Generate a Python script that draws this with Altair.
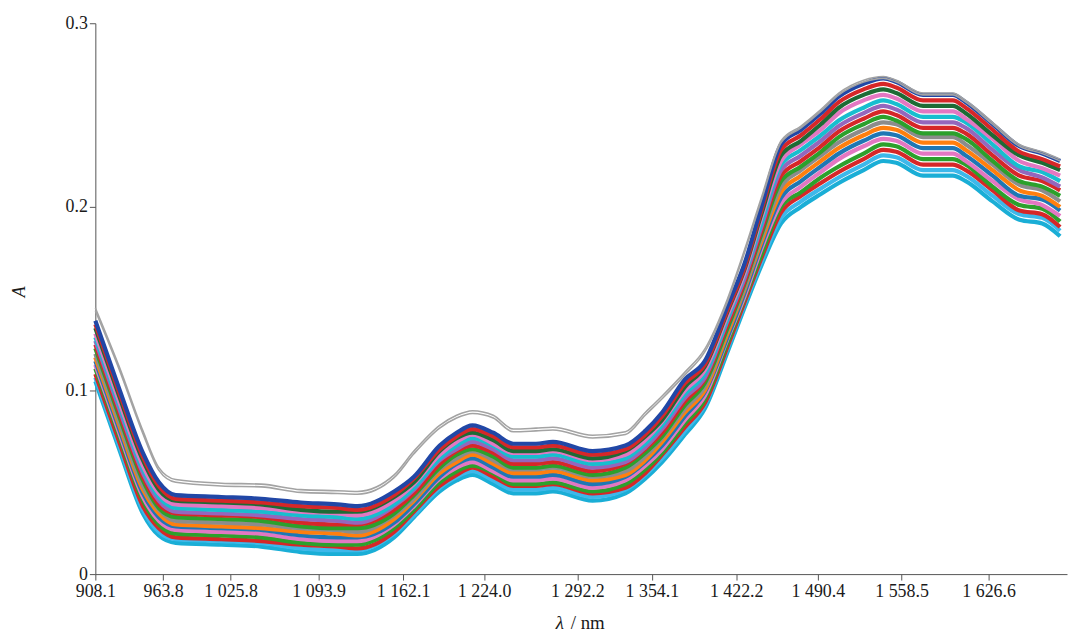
import altair as alt
import pandas as pd

# wavelength sample positions (nm)
WAVELENGTH = [908.1, 927.7, 947.2, 960.3, 975.4, 1017.3, 1049.4, 1080.1, 1109.1, 1125.2,
              1154.9, 1170.4, 1190.1, 1203.0, 1215.1, 1230.7, 1245.3, 1261.9, 1274.3, 1304.8,
              1332.1, 1348.6, 1362.4, 1380.8, 1396.8, 1415.2, 1429.1, 1443.2, 1459.7, 1476.3,
              1492.8, 1507.4, 1527.6, 1543.7, 1554.2, 1575.3, 1598.6, 1608.7, 1629.7, 1650.7,
              1668.5, 1682.5]

# absorbance spectra (bottom of the family to top)
S00 = [0.105, 0.068, 0.033, 0.021, 0.017, 0.016, 0.015, 0.012, 0.011, 0.011, 0.020, 0.031, 0.045, 0.051, 0.054, 0.049, 0.044, 0.044, 0.045, 0.040, 0.044, 0.052, 0.061, 0.076, 0.090, 0.121, 0.145, 0.168, 0.191, 0.200, 0.207, 0.213, 0.220, 0.225, 0.224, 0.217, 0.217, 0.214, 0.203, 0.193, 0.191, 0.184]
S01 = [0.107, 0.070, 0.035, 0.023, 0.019, 0.018, 0.017, 0.014, 0.013, 0.013, 0.022, 0.032, 0.047, 0.053, 0.056, 0.051, 0.046, 0.046, 0.047, 0.042, 0.046, 0.054, 0.063, 0.078, 0.092, 0.123, 0.147, 0.170, 0.194, 0.203, 0.210, 0.216, 0.223, 0.228, 0.227, 0.220, 0.220, 0.217, 0.206, 0.196, 0.194, 0.187]
S02 = [0.109, 0.072, 0.037, 0.025, 0.020, 0.019, 0.018, 0.016, 0.015, 0.014, 0.023, 0.034, 0.048, 0.054, 0.058, 0.053, 0.048, 0.048, 0.049, 0.044, 0.047, 0.055, 0.065, 0.080, 0.093, 0.124, 0.148, 0.172, 0.197, 0.206, 0.213, 0.219, 0.226, 0.231, 0.230, 0.223, 0.223, 0.220, 0.209, 0.198, 0.196, 0.189]
S03 = [0.112, 0.075, 0.040, 0.027, 0.022, 0.021, 0.020, 0.017, 0.016, 0.016, 0.025, 0.035, 0.050, 0.056, 0.059, 0.055, 0.049, 0.049, 0.050, 0.045, 0.049, 0.057, 0.066, 0.082, 0.095, 0.126, 0.150, 0.174, 0.200, 0.208, 0.216, 0.222, 0.229, 0.234, 0.233, 0.226, 0.226, 0.223, 0.211, 0.201, 0.199, 0.192]
S04 = [0.114, 0.077, 0.042, 0.029, 0.024, 0.023, 0.022, 0.019, 0.018, 0.018, 0.027, 0.037, 0.052, 0.058, 0.061, 0.056, 0.051, 0.051, 0.052, 0.047, 0.051, 0.059, 0.068, 0.084, 0.097, 0.128, 0.151, 0.177, 0.202, 0.211, 0.219, 0.226, 0.233, 0.237, 0.236, 0.229, 0.229, 0.225, 0.214, 0.204, 0.201, 0.195]
S05 = [0.116, 0.079, 0.044, 0.031, 0.026, 0.025, 0.024, 0.021, 0.020, 0.020, 0.028, 0.038, 0.053, 0.060, 0.063, 0.058, 0.053, 0.053, 0.054, 0.049, 0.053, 0.061, 0.070, 0.086, 0.099, 0.129, 0.153, 0.179, 0.205, 0.214, 0.222, 0.229, 0.236, 0.240, 0.239, 0.232, 0.232, 0.228, 0.217, 0.206, 0.204, 0.198]
S06 = [0.118, 0.081, 0.046, 0.033, 0.027, 0.026, 0.025, 0.023, 0.022, 0.021, 0.030, 0.040, 0.055, 0.061, 0.065, 0.060, 0.055, 0.055, 0.056, 0.051, 0.054, 0.062, 0.072, 0.088, 0.100, 0.131, 0.155, 0.181, 0.208, 0.217, 0.225, 0.232, 0.239, 0.243, 0.242, 0.235, 0.235, 0.231, 0.220, 0.209, 0.206, 0.200]
S07 = [0.120, 0.083, 0.048, 0.035, 0.029, 0.028, 0.027, 0.025, 0.024, 0.023, 0.032, 0.041, 0.057, 0.063, 0.067, 0.062, 0.057, 0.057, 0.058, 0.053, 0.056, 0.064, 0.074, 0.090, 0.102, 0.133, 0.156, 0.183, 0.211, 0.220, 0.228, 0.235, 0.242, 0.246, 0.245, 0.238, 0.238, 0.234, 0.223, 0.212, 0.209, 0.203]
S08 = [0.123, 0.086, 0.051, 0.036, 0.031, 0.030, 0.029, 0.026, 0.025, 0.025, 0.033, 0.043, 0.058, 0.065, 0.068, 0.064, 0.058, 0.058, 0.059, 0.054, 0.058, 0.066, 0.075, 0.092, 0.104, 0.134, 0.158, 0.185, 0.214, 0.222, 0.230, 0.238, 0.245, 0.249, 0.247, 0.240, 0.240, 0.237, 0.225, 0.214, 0.211, 0.206]
S09 = [0.125, 0.088, 0.053, 0.038, 0.033, 0.032, 0.031, 0.028, 0.027, 0.027, 0.035, 0.044, 0.060, 0.067, 0.070, 0.066, 0.060, 0.060, 0.061, 0.056, 0.060, 0.068, 0.077, 0.094, 0.106, 0.136, 0.159, 0.187, 0.217, 0.225, 0.233, 0.241, 0.248, 0.252, 0.250, 0.243, 0.243, 0.240, 0.228, 0.217, 0.214, 0.209]
S10 = [0.127, 0.090, 0.055, 0.040, 0.034, 0.033, 0.032, 0.030, 0.029, 0.028, 0.037, 0.046, 0.062, 0.068, 0.072, 0.068, 0.062, 0.062, 0.063, 0.058, 0.061, 0.069, 0.079, 0.096, 0.107, 0.138, 0.161, 0.189, 0.220, 0.228, 0.236, 0.244, 0.251, 0.255, 0.253, 0.246, 0.246, 0.243, 0.231, 0.220, 0.216, 0.211]
S11 = [0.129, 0.092, 0.057, 0.042, 0.036, 0.035, 0.034, 0.032, 0.031, 0.030, 0.038, 0.047, 0.063, 0.070, 0.074, 0.070, 0.064, 0.064, 0.065, 0.060, 0.063, 0.071, 0.081, 0.098, 0.109, 0.139, 0.163, 0.191, 0.223, 0.231, 0.239, 0.247, 0.254, 0.258, 0.256, 0.249, 0.249, 0.246, 0.234, 0.222, 0.219, 0.214]
S12 = [0.131, 0.094, 0.059, 0.044, 0.038, 0.037, 0.036, 0.034, 0.033, 0.032, 0.040, 0.049, 0.065, 0.072, 0.076, 0.071, 0.066, 0.066, 0.067, 0.062, 0.065, 0.073, 0.083, 0.100, 0.111, 0.141, 0.164, 0.194, 0.225, 0.234, 0.242, 0.251, 0.258, 0.261, 0.259, 0.252, 0.252, 0.248, 0.237, 0.225, 0.221, 0.217]
S13 = [0.134, 0.097, 0.062, 0.046, 0.040, 0.039, 0.038, 0.035, 0.034, 0.034, 0.042, 0.050, 0.067, 0.074, 0.077, 0.073, 0.067, 0.067, 0.068, 0.063, 0.067, 0.075, 0.084, 0.102, 0.113, 0.143, 0.166, 0.196, 0.228, 0.236, 0.245, 0.254, 0.261, 0.264, 0.262, 0.255, 0.255, 0.251, 0.239, 0.228, 0.224, 0.220]
S14 = [0.136, 0.099, 0.064, 0.048, 0.041, 0.040, 0.039, 0.037, 0.036, 0.035, 0.043, 0.052, 0.068, 0.075, 0.079, 0.075, 0.069, 0.069, 0.070, 0.065, 0.068, 0.076, 0.086, 0.104, 0.114, 0.144, 0.167, 0.198, 0.231, 0.239, 0.248, 0.257, 0.264, 0.267, 0.265, 0.258, 0.258, 0.254, 0.242, 0.230, 0.226, 0.222]
S15 = [0.138, 0.101, 0.066, 0.050, 0.043, 0.042, 0.041, 0.039, 0.038, 0.037, 0.045, 0.053, 0.070, 0.077, 0.081, 0.077, 0.071, 0.071, 0.072, 0.067, 0.070, 0.078, 0.088, 0.106, 0.116, 0.146, 0.169, 0.200, 0.234, 0.242, 0.251, 0.260, 0.267, 0.270, 0.268, 0.261, 0.261, 0.257, 0.245, 0.233, 0.229, 0.225]
# the grey (outlying) pair of spectra
GRAY_A = [0.145, 0.113, 0.078, 0.058, 0.0515, 0.0495, 0.049, 0.046, 0.0454, 0.045, 0.054, 0.067, 0.081, 0.0865, 0.089, 0.0865, 0.079, 0.0795, 0.080, 0.0756, 0.0775, 0.088, 0.097, 0.110, 0.1225, 0.150, 0.1765, 0.205, 0.236, 0.244, 0.253, 0.262, 0.269, 0.271, 0.269, 0.262, 0.262, 0.258, 0.246, 0.234, 0.230, 0.226]
GRAY_B = [0.1435, 0.1115, 0.0765, 0.0565, 0.050, 0.048, 0.0475, 0.0445, 0.0439, 0.0435, 0.0525, 0.0655, 0.0795, 0.085, 0.0875, 0.085, 0.0775, 0.078, 0.0785, 0.0741, 0.076, 0.0865, 0.0955, 0.1085, 0.121, 0.1485, 0.175, 0.2035, 0.235, 0.243, 0.252, 0.261, 0.268, 0.270, 0.268, 0.261, 0.261, 0.257, 0.245, 0.233, 0.229, 0.225]

BAND = {"S00": S00, "S01": S01, "S02": S02, "S03": S03, "S04": S04, "S05": S05,
        "S06": S06, "S07": S07, "S08": S08, "S09": S09, "S10": S10, "S11": S11,
        "S12": S12, "S13": S13, "S14": S14, "S15": S15}
BAND_COLORS = ["#1aaed6", "#3db8ea", "#d62728", "#2ca02c", "#e377c2", "#1f77b4",
               "#ff7f0e", "#8c8c8c", "#2ca02c", "#d62728", "#9467bd", "#17becf",
               "#e377c2", "#1d6b35", "#d62728", "#2147a6"]
GRAYS = {"G1": GRAY_A, "G2": GRAY_B}

X_TICKS = [908.1, 963.8, 1025.8, 1093.9, 1162.1, 1224.0, 1292.2, 1354.1, 1422.2, 1490.4, 1558.5, 1626.6]
X_TICK_LABELS = ["908.1", "963.8", "1 025.8", "1 093.9", "1 162.1", "1 224.0", "1 292.2",
                 "1 354.1", "1 422.2", "1 490.4", "1 558.5", "1 626.6"]
X_END = 1687.9
Y_TICKS = [0, 0.1, 0.2, 0.3]

# layout of the (non-uniform) wavelength axis, in px of plot width
X_TICK_PX = [0, 68.3, 136.3, 225, 310, 391.7, 485.7, 560.7, 645.7, 728, 812.3, 900, 979]


def long_table(series):
    rows = []
    for name, vals in series.items():
        assert len(vals) == len(WAVELENGTH), name
        for w, a in zip(WAVELENGTH, vals):
            rows.append({"sample": name, "wavelength": w, "A": a})
    return pd.DataFrame(rows)


band_df = long_table(BAND)
gray_df = long_table(GRAYS)

FONT = "Liberation Serif"
AX_COLOR = "#555555"
TXT = "#1a1a1a"

x_label_expr = "".join(
    f"abs(datum.value - {v}) < 0.01 ? '{l}' : " for v, l in zip(X_TICKS, X_TICK_LABELS)
) + "''"

x_scale = alt.Scale(domain=X_TICKS + [X_END], range=X_TICK_PX, nice=False, zero=False)
y_scale = alt.Scale(domain=[0, 0.3], nice=False, zero=False)

x_axis = alt.Axis(values=X_TICKS, labelExpr=x_label_expr, tickSize=6, labelPadding=3,
                  labelFlush=False, labelOverlap=False, grid=False, title="",
                  domainColor=AX_COLOR, tickColor=AX_COLOR, labelColor=TXT,
                  labelFont=FONT, labelFontSize=18)
y_axis = alt.Axis(values=Y_TICKS, labelExpr="datum.value == 0 ? '0' : format(datum.value, '.1f')",
                  tickSize=6, labelPadding=2, labelFlush=False, labelOverlap=False, grid=False,
                  domainColor=AX_COLOR, tickColor=AX_COLOR, labelColor=TXT,
                  labelFont=FONT, labelFontSize=18,
                  title="A", titleFont=FONT, titleFontSize=18, titleFontStyle="italic",
                  titleFontWeight="normal", titleColor=TXT, titleAngle=270,
                  titleX=-67, titleY=270, titleBaseline="bottom", titleAlign="center")

band = alt.Chart(band_df).mark_line(strokeWidth=4.2, interpolate="monotone").encode(
    x=alt.X("wavelength:Q", scale=x_scale, axis=x_axis),
    y=alt.Y("A:Q", scale=y_scale, axis=y_axis),
    color=alt.Color("sample:N", scale=alt.Scale(domain=list(BAND.keys()), range=BAND_COLORS),
                    legend=None),
    order=alt.Order("sample:N"),
)

gray = alt.Chart(gray_df).mark_line(strokeWidth=1.6, interpolate="monotone", color="#a3a3a3").encode(
    x=alt.X("wavelength:Q", scale=x_scale),
    y=alt.Y("A:Q", scale=y_scale),
    detail="sample:N",
)

lam = alt.Chart(pd.DataFrame({"t": ["λ"]})).mark_text(
    font=FONT, fontSize=19, fontStyle="italic", color=TXT, align="left", baseline="alphabetic"
).encode(x=alt.value(464), y=alt.value(610), text="t:N")

unit = alt.Chart(pd.DataFrame({"t": ["/ nm"]})).mark_text(
    font=FONT, fontSize=19, color=TXT, align="left", baseline="alphabetic"
).encode(x=alt.value(479), y=alt.value(610), text="t:N")

chart = alt.layer(band, gray, lam, unit).properties(
    width=979, height=555,
    padding={"left": 88, "top": 13, "right": 2, "bottom": 60},
    autosize=alt.AutoSizeParams(type="none"),
    background="white",
).configure_view(stroke=None)

chart.save("out.html", embed_options={"renderer": "svg", "actions": False})
